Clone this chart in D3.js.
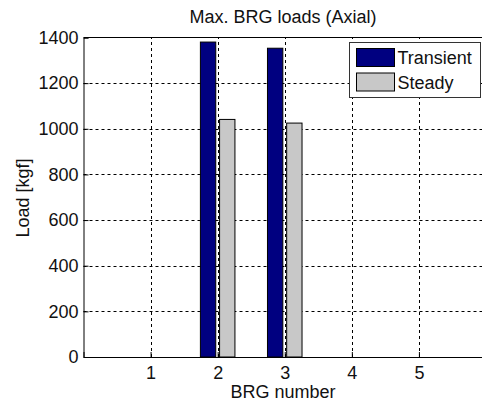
<!DOCTYPE html>
<html>
<head>
<meta charset="utf-8">
<script src="https://cdn.jsdelivr.net/npm/d3@7"></script>
<style>
  body { margin: 0; background: #fff; }
  text { font-family: "Liberation Sans", Arial, sans-serif; fill: #111; }
</style>
</head>
<body>
<svg id="chart" width="482" height="405"></svg>
<script>
// data
var brgNumbers = [1, 2, 3, 4, 5];
var transientLoads = [0, 1380, 1353, 0, 0];
var steadyLoads = [0, 1041, 1025, 0, 0];
var yTicks = [0, 200, 400, 600, 800, 1000, 1200, 1400];
var seriesNames = ['Transient', 'Steady'];
var seriesColors = ['#000080', '#c8c8c8'];

var w = 482, h = 405;
var margin = {left: 83.5, top: 37.5, right: -4, bottom: 48};
var BAR_W = 0.229, BAR_OFF = 0.143;
var FONT = '18px';

var svg = d3.select('#chart');

var x = d3.scaleLinear().domain([0, 6]).range([margin.left, w - margin.right]);
var y = d3.scaleLinear().domain([0, 1400]).range([h - margin.bottom, margin.top]);

// grid
var grid = svg.append('g').attr('class', 'grid')
    .attr('stroke', '#000').attr('stroke-width', 1).attr('stroke-dasharray', '3,3');
grid.selectAll('line.gx').data(brgNumbers).enter().append('line')
    .attr('x1', function(d) { return Math.round(x(d)) + 0.5; })
    .attr('x2', function(d) { return Math.round(x(d)) + 0.5; })
    .attr('y1', y(0)).attr('y2', y(1400));
grid.selectAll('line.gy').data(yTicks.slice(1, -1)).enter().append('line')
    .attr('y1', function(d) { return Math.round(y(d)) + 0.5; })
    .attr('y2', function(d) { return Math.round(y(d)) + 0.5; })
    .attr('x1', x(0)).attr('x2', x(6));

// bars
var series = [transientLoads, steadyLoads];
series.forEach(function(vals, s) {
  var offset = s === 0 ? -BAR_OFF : BAR_OFF;
  svg.append('g').selectAll('rect')
      .data(brgNumbers.map(function(b, i) { return {b: b, v: vals[i]}; })
        .filter(function(d) { return d.v > 0; }))
    .enter().append('rect')
      .attr('x', function(d) { return x(d.b + offset - BAR_W / 2); })
      .attr('width', function(d) { return x(BAR_W) - x(0); })
      .attr('y', function(d) { return y(d.v); })
      .attr('height', function(d) { return y(0) - y(d.v); })
      .attr('fill', seriesColors[s])
      .attr('stroke', '#000')
      .attr('stroke-width', 1);
});

// axes
var xAxis = d3.axisBottom(x).tickValues(brgNumbers).tickSize(-5).tickPadding(9)
    .tickFormat(d3.format('d'));
var gx = svg.append('g').attr('transform', 'translate(0,' + y(0) + ')').call(xAxis);
var yAxis = d3.axisLeft(y).tickValues(yTicks).tickSize(-5).tickPadding(5)
    .tickFormat(d3.format('d'));
var gy = svg.append('g').attr('transform', 'translate(' + x(0) + ',0)').call(yAxis);
[gx, gy].forEach(function(g) {
  g.attr('font-size', null).attr('font-family', null);
  g.select('.domain').attr('stroke', '#000');
  g.selectAll('.tick line').attr('stroke', '#000');
  g.selectAll('.tick text').style('font-size', FONT).attr('fill', '#111');
});
gx.selectAll('.tick text').attr('dy', '0.71em');

// box top
svg.append('line')
    .attr('x1', x(0)).attr('x2', x(6)).attr('y1', y(1400)).attr('y2', y(1400))
    .attr('stroke', '#000');

// titles
svg.append('text')
    .attr('x', 283).attr('y', 23)
    .attr('text-anchor', 'middle').style('font-size', FONT)
    .text('Max. BRG loads (Axial)');
svg.append('text')
    .attr('x', 283).attr('y', 398)
    .attr('text-anchor', 'middle').style('font-size', FONT)
    .text('BRG number');
svg.append('text')
    .attr('transform', 'translate(29,198) rotate(-90)')
    .attr('text-anchor', 'middle').style('font-size', FONT)
    .text('Load [kgf]');

// legend
var legend = svg.append('g').attr('transform', 'translate(349.5,42.5)');
legend.append('rect')
    .attr('width', 131).attr('height', 55)
    .attr('fill', '#fff').attr('stroke', '#333').attr('stroke-width', 1);
seriesNames.forEach(function(name, i) {
  legend.append('rect')
      .attr('x', 7).attr('y', 6 + i * 24.5)
      .attr('width', 38).attr('height', 18)
      .attr('fill', seriesColors[i]).attr('stroke', '#000');
  legend.append('text')
      .attr('x', 48).attr('y', 21.5 + i * 24.5)
      .style('font-size', FONT)
      .text(name);
});
</script>
</body>
</html>
